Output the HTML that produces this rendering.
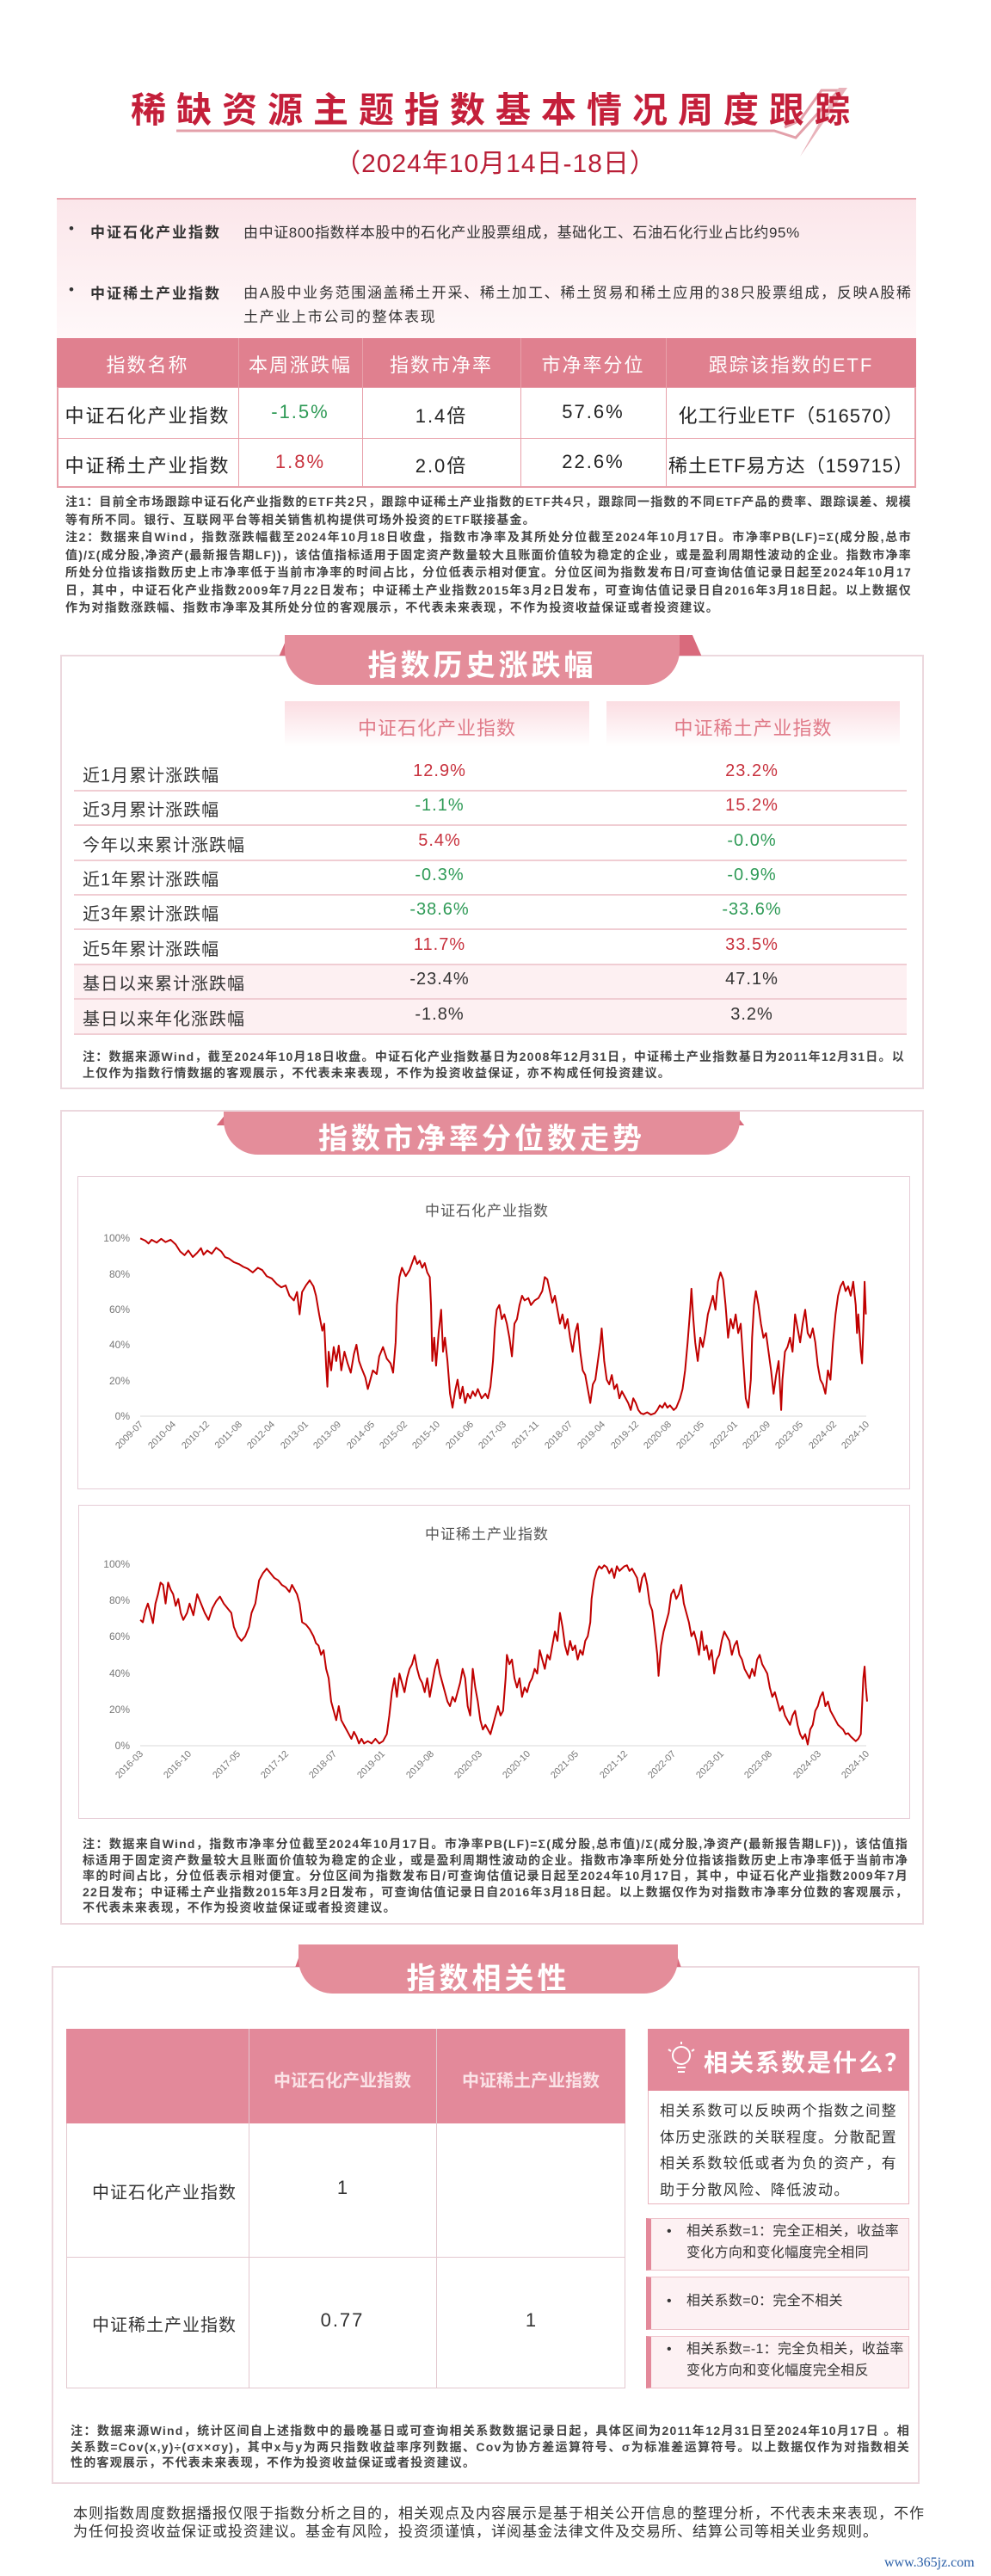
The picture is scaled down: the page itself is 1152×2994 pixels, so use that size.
<!DOCTYPE html>
<html><head><meta charset="utf-8">
<style>
*{margin:0;padding:0;box-sizing:border-box}
body{width:1152px;height:2994px;position:relative;background:#fff;font-family:"Liberation Sans","Noto Sans CJK SC",sans-serif;color:#333;overflow:hidden}
.a{position:absolute}
.c{text-align:center}
.note{font-size:14px;line-height:18.5px;letter-spacing:1.2px;font-weight:bold;color:#444;text-align:justify}
.sec{border:2px solid #ecd8de;background:#fff}
.rib{background:#e48d9a;color:#fff;font-weight:bold;font-size:34px;letter-spacing:4px;text-align:center;border-radius:0 0 40px 40px}
.red{color:#c8323e}.grn{color:#2e9a56}
</style></head><body>

<svg class="a" style="left:0;top:0" width="1152" height="240">
<polyline points="205,152 900,152 925,160 975,105 955,105 930,140 912,148" fill="none" stroke="#e3a0aa" stroke-width="3"/>
<polygon points="930,182 975,102 985,102" fill="#e9b3bb"/>
</svg>
<div class="a c" style="left:0;width:1152px;top:94px;font-size:41px;font-weight:bold;color:#c41f3a;letter-spacing:12px">稀缺资源主题指数基本情况周度跟踪</div>
<div class="a c" style="left:0;width:1152px;top:165px;font-size:30px;color:#b81d35;letter-spacing:1px">（2024年10月14日-18日）</div>

<div class="a" style="left:66px;top:230px;width:999px;height:163px;background:linear-gradient(#fbe6ea,#fff8f9)"></div>
<div class="a" style="left:66px;top:230px;width:999px;height:2px;background:#e9a4ae"></div>

<div class="a" style="left:80px;top:256px;font-size:17px">•</div>
<div class="a" style="left:105px;top:256px;font-size:17px;font-weight:bold;letter-spacing:2px">中证石化产业指数</div>
<div class="a" style="left:283px;top:256px;font-size:17px;letter-spacing:0.6px">由中证800指数样本股中的石化产业股票组成，基础化工、石油石化行业占比约95%</div>
<div class="a" style="left:80px;top:327px;font-size:17px">•</div>
<div class="a" style="left:105px;top:327px;font-size:17px;font-weight:bold;letter-spacing:2px">中证稀土产业指数</div>
<div class="a" style="left:283px;top:327px;width:785px;font-size:17px;letter-spacing:1.7px;line-height:28px">由A股中业务范围涵盖稀土开采、稀土加工、稀土贸易和稀土应用的38只股票组成，反映A股稀土产业上市公司的整体表现</div>

<div class="a" style="left:66px;top:393px;width:999px;height:174px;border:2px solid #e8a0aa"></div>
<div class="a" style="left:66px;top:393px;width:999px;height:57px;background:#e0808f"></div>
<div class="a" style="left:66px;top:509px;width:999px;height:1px;background:#e8a0aa"></div>
<div class="a" style="left:66px;top:450px;width:999px;height:1px;background:#e8a0aa"></div>
<div class="a" style="left:277px;top:393px;width:1px;height:174px;background:#e8a0aa"></div>
<div class="a" style="left:421px;top:393px;width:1px;height:174px;background:#e8a0aa"></div>
<div class="a" style="left:605px;top:393px;width:1px;height:174px;background:#e8a0aa"></div>
<div class="a" style="left:774px;top:393px;width:1px;height:174px;background:#e8a0aa"></div>
<div style="color:#fff;font-size:22px;letter-spacing:2px">
<div class="a c" style="left:66px;width:211px;top:407px">指数名称</div>
<div class="a c" style="left:277px;width:144px;top:407px">本周涨跌幅</div>
<div class="a c" style="left:421px;width:184px;top:407px">指数市净率</div>
<div class="a c" style="left:605px;width:169px;top:407px">市净率分位</div>
<div class="a c" style="left:774px;width:291px;top:407px">跟踪该指数的ETF</div>
</div>
<div style="font-size:22px;letter-spacing:2px;color:#222">
<div class="a c" style="left:66px;width:211px;top:466px">中证石化产业指数</div>
<div class="a c grn" style="left:277px;width:144px;top:466px">-1.5%</div>
<div class="a c" style="left:421px;width:184px;top:466px">1.4倍</div>
<div class="a c" style="left:605px;width:169px;top:466px">57.6%</div>
<div class="a c" style="left:774px;width:291px;top:466px;letter-spacing:1px">化工行业ETF（516570）</div>
<div class="a c" style="left:66px;width:211px;top:524px">中证稀土产业指数</div>
<div class="a c red" style="left:277px;width:144px;top:524px">1.8%</div>
<div class="a c" style="left:421px;width:184px;top:524px">2.0倍</div>
<div class="a c" style="left:605px;width:169px;top:524px">22.6%</div>
<div class="a c" style="left:774px;width:291px;top:524px;letter-spacing:1px">稀土ETF易方达（159715）</div>
</div>
<div class="a note" style="left:76px;top:573px;width:984px;line-height:20.5px">注1：目前全市场跟踪中证石化产业指数的ETF共2只，跟踪中证稀土产业指数的ETF共4只，跟踪同一指数的不同ETF产品的费率、跟踪误差、规模等有所不同。银行、互联网平台等相关销售机构提供可场外投资的ETF联接基金。<br>注2：数据来自Wind，指数涨跌幅截至2024年10月18日收盘，指数市净率及其所处分位截至2024年10月17日。市净率PB(LF)=Σ(成分股,总市值)/Σ(成分股,净资产(最新报告期LF))，该估值指标适用于固定资产数量较大且账面价值较为稳定的企业，或是盈利周期性波动的企业。指数市净率所处分位指该指数历史上市净率低于当前市净率的时间占比，分位低表示相对便宜。分位区间为指数发布日/可查询估值记录日起至2024年10月17日，其中，中证石化产业指数2009年7月22日发布；中证稀土产业指数2015年3月2日发布，可查询估值记录日自2016年3月18日起。以上数据仅作为对指数涨跌幅、指数市净率及其所处分位的客观展示，不代表未来表现，不作为投资收益保证或者投资建议。</div>

<div class="a sec" style="left:70px;top:761px;width:1004px;height:505px"></div>
<div class="a" style="left:309px;top:738px;width:522px;height:24px;background:#d96a7c;clip-path:polygon(3% 100%,5% 0,95% 0,97% 100%)"></div>
<div class="a rib" style="left:331px;top:738px;width:459px;height:58px;padding-top:8px">指数历史涨跌幅</div>
<div class="a c" style="left:331px;top:815px;width:354px;height:53px;background:linear-gradient(#fbdde2,#fff);color:#e07a88;font-size:22px;padding-top:14px;letter-spacing:1px">中证石化产业指数</div>
<div class="a c" style="left:705px;top:815px;width:341px;height:53px;background:linear-gradient(#fbdde2,#fff);color:#e07a88;font-size:22px;padding-top:14px;letter-spacing:1px">中证稀土产业指数</div>
<div class="a" style="left:86px;top:1120px;width:968px;height:81px;background:#fdf0f2"></div>
<div class="a" style="left:86px;top:918px;width:968px;height:2px;background:#f0cdd3"></div>
<div class="a" style="left:86px;top:958px;width:968px;height:2px;background:#f0cdd3"></div>
<div class="a" style="left:86px;top:999px;width:968px;height:2px;background:#f0cdd3"></div>
<div class="a" style="left:86px;top:1039px;width:968px;height:2px;background:#f0cdd3"></div>
<div class="a" style="left:86px;top:1079px;width:968px;height:2px;background:#f0cdd3"></div>
<div class="a" style="left:86px;top:1120px;width:968px;height:2px;background:#f0cdd3"></div>
<div class="a" style="left:86px;top:1160px;width:968px;height:2px;background:#f0cdd3"></div>
<div class="a" style="left:86px;top:1201px;width:968px;height:2px;background:#f0cdd3"></div>
<div style="font-size:20px;letter-spacing:1px">
<div class="a" style="left:96px;top:885px">近1月累计涨跌幅</div><div class="a c red" style="left:431px;width:160px;top:885px">12.9%</div><div class="a c red" style="left:794px;width:160px;top:885px">23.2%</div>
<div class="a" style="left:96px;top:925px">近3月累计涨跌幅</div><div class="a c grn" style="left:431px;width:160px;top:925px">-1.1%</div><div class="a c red" style="left:794px;width:160px;top:925px">15.2%</div>
<div class="a" style="left:96px;top:966px">今年以来累计涨跌幅</div><div class="a c red" style="left:431px;width:160px;top:966px">5.4%</div><div class="a c grn" style="left:794px;width:160px;top:966px">-0.0%</div>
<div class="a" style="left:96px;top:1006px">近1年累计涨跌幅</div><div class="a c grn" style="left:431px;width:160px;top:1006px">-0.3%</div><div class="a c grn" style="left:794px;width:160px;top:1006px">-0.9%</div>
<div class="a" style="left:96px;top:1046px">近3年累计涨跌幅</div><div class="a c grn" style="left:431px;width:160px;top:1046px">-38.6%</div><div class="a c grn" style="left:794px;width:160px;top:1046px">-33.6%</div>
<div class="a" style="left:96px;top:1087px">近5年累计涨跌幅</div><div class="a c red" style="left:431px;width:160px;top:1087px">11.7%</div><div class="a c red" style="left:794px;width:160px;top:1087px">33.5%</div>
<div class="a" style="left:96px;top:1127px">基日以来累计涨跌幅</div><div class="a c" style="left:431px;width:160px;top:1127px">-23.4%</div><div class="a c" style="left:794px;width:160px;top:1127px">47.1%</div>
<div class="a" style="left:96px;top:1168px">基日以来年化涨跌幅</div><div class="a c" style="left:431px;width:160px;top:1168px">-1.8%</div><div class="a c" style="left:794px;width:160px;top:1168px">3.2%</div>
</div>
<div class="a note" style="left:96px;top:1219px;width:956px">注：数据来源Wind，截至2024年10月18日收盘。中证石化产业指数基日为2008年12月31日，中证稀土产业指数基日为2011年12月31日。以上仅作为指数行情数据的客观展示，不代表未来表现，不作为投资收益保证，亦不构成任何投资建议。</div>

<div class="a sec" style="left:70px;top:1290px;width:1004px;height:947px"></div>
<div class="a" style="left:239px;top:1292px;width:639px;height:16px;background:#d96a7c;clip-path:polygon(2% 100%,4% 0,96% 0,98% 100%)"></div>
<div class="a rib" style="left:260px;top:1292px;width:600px;height:50px;padding-top:4px">指数市净率分位数走势</div>
<div class="a" style="left:90px;top:1367px;width:968px;height:364px;border:1px solid #e6ccd6"></div>
<div class="a" style="left:91px;top:1749px;width:967px;height:365px;border:1px solid #e6ccd6"></div>

<svg class="a" style="left:0;top:1300px" width="1152" height="850" viewBox="0 0 1568 1568" preserveAspectRatio="none">
<polyline vector-effect="non-scaling-stroke" fill="none" stroke="#c00000" stroke-width="2" stroke-linejoin="round" points="222,257 230,262 235,268 240,260 248,266 255,258 262,265 270,260 278,270 285,285 292,293 298,283 305,297 312,288 318,278 322,292 328,283 335,290 342,277 350,285 356,297 362,300 370,308 378,312 385,318 392,322 400,330 408,320 415,325 422,338 430,343 438,355 445,362 452,358 458,380 465,390 470,372 474,420 478,372 484,358 490,347 496,360 500,380 505,420 510,455 513,440 516,530 518,575 520,500 524,540 528,490 532,520 536,487 540,540 545,500 550,525 555,545 560,505 564,485 568,520 572,535 578,555 582,580 586,560 590,540 596,548 600,510 606,490 612,515 618,525 622,545 626,480 628,400 632,340 636,320 642,338 648,325 652,310 656,295 660,312 664,305 668,320 672,310 676,330 680,340 682,400 684,520 687,470 690,530 694,460 698,410 701,500 704,470 708,520 712,590 716,620 720,585 724,560 728,600 732,575 736,610 740,590 744,600 748,585 752,595 756,580 762,600 768,590 772,600 776,575 780,520 783,450 786,410 790,400 794,430 798,420 802,440 806,470 810,510 814,440 818,430 822,400 826,380 830,390 836,385 840,400 846,390 852,385 858,370 862,340 866,345 870,370 874,395 878,380 882,410 886,440 890,420 894,450 898,430 902,470 906,500 910,460 914,440 918,500 922,540 926,550 930,580 934,610 938,570 942,560 946,520 950,480 952,450 956,520 960,560 964,570 968,550 972,580 976,570 980,600 984,585 990,600 994,610 998,625 1002,600 1006,610 1010,625 1014,632 1018,634 1024,630 1030,635 1036,632 1040,625 1044,615 1048,620 1052,610 1056,620 1060,615 1066,625 1070,620 1076,600 1080,580 1084,540 1088,480 1092,410 1094,365 1097,430 1100,480 1104,520 1108,470 1112,490 1116,460 1120,420 1124,400 1128,380 1132,410 1136,350 1140,330 1144,345 1148,400 1152,470 1156,430 1160,450 1164,420 1168,460 1172,440 1176,520 1180,600 1184,620 1188,560 1190,470 1193,400 1196,370 1200,400 1204,440 1208,470 1212,460 1216,500 1220,540 1224,590 1228,550 1232,520 1236,625 1238,560 1242,500 1246,490 1250,470 1254,500 1258,420 1262,450 1266,480 1270,440 1274,410 1278,460 1282,470 1286,450 1290,480 1294,530 1298,560 1302,570 1306,590 1310,540 1314,560 1318,480 1322,420 1326,380 1330,360 1334,350 1338,370 1342,360 1346,380 1350,350 1354,400 1356,460 1358,420 1362,500 1364,525 1366,450 1368,350 1370,420"/>
<polyline vector-effect="non-scaling-stroke" fill="none" stroke="#c00000" stroke-width="2" stroke-linejoin="round" points="222,1075 226,1080 230,1055 234,1040 238,1060 242,1082 246,1040 250,1020 254,995 258,1000 262,1040 266,995 270,1010 274,1020 278,1045 282,1030 286,1060 290,1075 296,1060 300,1040 306,1065 312,1020 318,1040 324,1060 330,1075 336,1050 342,1035 348,1025 354,1040 360,1050 366,1060 370,1090 376,1110 382,1120 388,1110 394,1090 398,1060 404,1040 410,990 416,975 422,965 428,975 434,985 440,990 446,1000 452,1005 458,1015 462,1000 466,1010 470,1020 474,1040 478,1080 484,1085 490,1095 496,1110 500,1125 504,1130 508,1150 512,1140 516,1180 520,1200 524,1250 528,1270 532,1290 536,1260 540,1290 544,1300 548,1310 552,1320 556,1330 560,1315 564,1325 568,1340 572,1330 576,1340 582,1335 588,1340 594,1330 600,1340 606,1335 612,1320 616,1280 620,1230 624,1200 628,1240 632,1190 636,1210 640,1230 644,1200 648,1180 652,1170 656,1150 660,1180 664,1200 668,1210 672,1230 676,1200 680,1240 684,1210 688,1180 692,1160 696,1190 700,1210 704,1230 708,1250 712,1260 716,1240 720,1250 724,1230 728,1210 732,1180 736,1200 740,1260 744,1280 748,1180 752,1220 756,1250 760,1290 764,1310 768,1300 772,1310 776,1320 780,1300 784,1280 788,1260 792,1280 796,1270 800,1200 802,1150 806,1170 810,1160 814,1200 818,1220 822,1200 826,1240 830,1220 834,1230 838,1210 842,1200 846,1180 850,1190 854,1140 858,1160 862,1180 866,1150 870,1160 874,1130 878,1100 882,1120 886,1060 890,1090 894,1130 898,1150 902,1120 906,1140 910,1130 914,1160 918,1140 922,1150 926,1120 930,1110 934,1080 936,1030 940,990 944,970 948,960 952,965 956,958 960,962 964,975 968,965 972,985 976,960 980,970 984,965 988,960 992,958 996,970 1000,965 1004,975 1008,985 1012,1015 1016,985 1020,975 1024,1000 1028,1040 1032,1055 1036,1100 1040,1150 1042,1195 1046,1130 1050,1100 1054,1080 1058,1060 1062,1020 1066,1010 1070,1030 1074,1020 1078,1000 1082,1040 1086,1060 1090,1080 1094,1110 1098,1100 1102,1120 1106,1150 1110,1100 1114,1140 1118,1130 1122,1160 1126,1140 1130,1190 1134,1160 1138,1150 1142,1120 1146,1100 1150,1110 1154,1120 1158,1150 1162,1130 1166,1120 1170,1150 1174,1160 1178,1180 1182,1190 1186,1200 1190,1180 1194,1195 1198,1160 1202,1150 1206,1170 1210,1180 1214,1190 1218,1220 1222,1240 1226,1230 1230,1250 1234,1270 1238,1260 1242,1280 1246,1290 1250,1300 1254,1280 1258,1270 1262,1300 1266,1320 1270,1330 1274,1320 1278,1342 1282,1310 1286,1300 1290,1270 1294,1260 1298,1240 1302,1230 1306,1260 1310,1250 1314,1270 1318,1280 1322,1290 1326,1300 1330,1305 1334,1310 1338,1320 1342,1318 1346,1325 1350,1330 1354,1335 1358,1330 1362,1320 1364,1260 1366,1200 1368,1175 1370,1220 1372,1250"/>
</svg>

<svg class="a" style="left:0;top:0" width="1152" height="2994" font-family="Liberation Sans, Noto Sans CJK SC, sans-serif">
<text x="566" y="1413" text-anchor="middle" font-size="17" fill="#555" letter-spacing="1">中证石化产业指数</text>
<line x1="163" y1="1646" x2="1007" y2="1646" stroke="#d9d9d9"/>
<g font-size="12" fill="#777" text-anchor="end">
<text x="151" y="1443">100%</text><text x="151" y="1485">80%</text><text x="151" y="1526">60%</text><text x="151" y="1567">40%</text><text x="151" y="1609">20%</text><text x="151" y="1650">0%</text>
</g>
<g font-size="11" fill="#777" text-anchor="end">
<text transform="translate(167,1656) rotate(-45)">2009-07</text>
<text transform="translate(205,1656) rotate(-45)">2010-04</text>
<text transform="translate(244,1656) rotate(-45)">2010-12</text>
<text transform="translate(282,1656) rotate(-45)">2011-08</text>
<text transform="translate(320,1656) rotate(-45)">2012-04</text>
<text transform="translate(359,1656) rotate(-45)">2013-01</text>
<text transform="translate(397,1656) rotate(-45)">2013-09</text>
<text transform="translate(436,1656) rotate(-45)">2014-05</text>
<text transform="translate(474,1656) rotate(-45)">2015-02</text>
<text transform="translate(512,1656) rotate(-45)">2015-10</text>
<text transform="translate(551,1656) rotate(-45)">2016-06</text>
<text transform="translate(589,1656) rotate(-45)">2017-03</text>
<text transform="translate(627,1656) rotate(-45)">2017-11</text>
<text transform="translate(666,1656) rotate(-45)">2018-07</text>
<text transform="translate(704,1656) rotate(-45)">2019-04</text>
<text transform="translate(743,1656) rotate(-45)">2019-12</text>
<text transform="translate(781,1656) rotate(-45)">2020-08</text>
<text transform="translate(819,1656) rotate(-45)">2021-05</text>
<text transform="translate(858,1656) rotate(-45)">2022-01</text>
<text transform="translate(896,1656) rotate(-45)">2022-09</text>
<text transform="translate(934,1656) rotate(-45)">2023-05</text>
<text transform="translate(973,1656) rotate(-45)">2024-02</text>
<text transform="translate(1011,1656) rotate(-45)">2024-10</text>
</g>
<text x="566" y="1789" text-anchor="middle" font-size="17" fill="#555" letter-spacing="1">中证稀土产业指数</text>
<line x1="163" y1="2029" x2="1007" y2="2029" stroke="#d9d9d9"/>
<g font-size="12" fill="#777" text-anchor="end">
<text x="151" y="1822">100%</text><text x="151" y="1864">80%</text><text x="151" y="1906">60%</text><text x="151" y="1949">40%</text><text x="151" y="1991">20%</text><text x="151" y="2033">0%</text>
</g>
<g font-size="11" fill="#777" text-anchor="end">
<text transform="translate(167,2039) rotate(-45)">2016-03</text>
<text transform="translate(223,2039) rotate(-45)">2016-10</text>
<text transform="translate(280,2039) rotate(-45)">2017-05</text>
<text transform="translate(336,2039) rotate(-45)">2017-12</text>
<text transform="translate(392,2039) rotate(-45)">2018-07</text>
<text transform="translate(448,2039) rotate(-45)">2019-01</text>
<text transform="translate(505,2039) rotate(-45)">2019-08</text>
<text transform="translate(561,2039) rotate(-45)">2020-03</text>
<text transform="translate(617,2039) rotate(-45)">2020-10</text>
<text transform="translate(673,2039) rotate(-45)">2021-05</text>
<text transform="translate(730,2039) rotate(-45)">2021-12</text>
<text transform="translate(786,2039) rotate(-45)">2022-07</text>
<text transform="translate(842,2039) rotate(-45)">2023-01</text>
<text transform="translate(898,2039) rotate(-45)">2023-08</text>
<text transform="translate(955,2039) rotate(-45)">2024-03</text>
<text transform="translate(1011,2039) rotate(-45)">2024-10</text>
</g>
</svg>
<div class="a note" style="left:96px;top:2134px;width:960px">注：数据来自Wind，指数市净率分位截至2024年10月17日。市净率PB(LF)=Σ(成分股,总市值)/Σ(成分股,净资产(最新报告期LF))，该估值指标适用于固定资产数量较大且账面价值较为稳定的企业，或是盈利周期性波动的企业。指数市净率所处分位指该指数历史上市净率低于当前市净率的时间占比，分位低表示相对便宜。分位区间为指数发布日/可查询估值记录日起至2024年10月17日，其中，中证石化产业指数2009年7月22日发布；中证稀土产业指数2015年3月2日发布，可查询估值记录日自2016年3月18日起。以上数据仅作为对指数市净率分位数的客观展示，不代表未来表现，不作为投资收益保证或者投资建议。</div>

<div class="a sec" style="left:60px;top:2285px;width:1009px;height:602px"></div>
<div class="a" style="left:334px;top:2260px;width:467px;height:26px;background:#d96a7c;clip-path:polygon(2% 100%,4% 0,96% 0,98% 100%)"></div>
<div class="a rib" style="left:347px;top:2260px;width:441px;height:57px;padding-top:12px">指数相关性</div>

<div class="a" style="left:77px;top:2358px;width:650px;height:418px;border:1px solid #e3c8cf"></div>
<div class="a" style="left:77px;top:2358px;width:650px;height:110px;background:#e3899a"></div>
<div class="a" style="left:289px;top:2358px;width:1px;height:418px;background:#e3c8cf"></div>
<div class="a" style="left:507px;top:2358px;width:1px;height:418px;background:#e3c8cf"></div>
<div class="a" style="left:77px;top:2623px;width:650px;height:1px;background:#e3c8cf"></div>
<div class="a c" style="left:289px;width:218px;top:2402px;font-size:20px;font-weight:bold;color:#fbe3e7">中证石化产业指数</div>
<div class="a c" style="left:507px;width:220px;top:2402px;font-size:20px;font-weight:bold;color:#fbe3e7">中证稀土产业指数</div>
<div class="a" style="left:107px;top:2532px;font-size:20px;letter-spacing:1px">中证石化产业指数</div>
<div class="a c" style="left:289px;width:218px;top:2530px;font-size:22px">1</div>
<div class="a" style="left:107px;top:2686px;font-size:20px;letter-spacing:1px">中证稀土产业指数</div>
<div class="a c" style="left:289px;width:218px;top:2684px;font-size:22px;letter-spacing:2px">0.77</div>
<div class="a c" style="left:507px;width:220px;top:2684px;font-size:22px">1</div>

<div class="a" style="left:753px;top:2358px;width:304px;height:204px;border:1px solid #e9b5bf;background:#fff"></div>
<div class="a" style="left:753px;top:2358px;width:304px;height:72px;background:#e3899a"></div>
<svg class="a" style="left:775px;top:2372px" width="34" height="46"><circle cx="17" cy="17" r="10" fill="none" stroke="#fff" stroke-width="2"/><line x1="12" y1="31" x2="22" y2="31" stroke="#fff" stroke-width="2"/><line x1="13" y1="36" x2="21" y2="36" stroke="#fff" stroke-width="2"/><line x1="17" y1="1" x2="17" y2="4" stroke="#fff" stroke-width="2"/><line x1="2" y1="10" x2="5" y2="12" stroke="#fff" stroke-width="2"/><line x1="32" y1="10" x2="29" y2="12" stroke="#fff" stroke-width="2"/></svg>
<div class="a" style="left:818px;top:2376px;font-size:28px;font-weight:bold;color:#fff;letter-spacing:2px">相关系数是什么？</div>
<div class="a" style="left:767px;top:2439px;width:286px;font-size:17px;line-height:30.5px;letter-spacing:1.4px">相关系数可以反映两个指数之间整体历史涨跌的关联程度。分散配置相关系数较低或者为负的资产，有助于分散风险、降低波动。</div>

<div class="a" style="left:751px;top:2578px;width:306px;height:61px;border:1px solid #eec3ca;border-left:6px solid #e3899a;background:#fdf1f3"></div>
<div class="a" style="left:751px;top:2646px;width:306px;height:62px;border:1px solid #eec3ca;border-left:6px solid #e3899a;background:#fdf1f3"></div>
<div class="a" style="left:751px;top:2715px;width:306px;height:61px;border:1px solid #eec3ca;border-left:6px solid #e3899a;background:#fdf1f3"></div>
<div style="font-size:16px;letter-spacing:0.3px;line-height:25px">
<div class="a" style="left:775px;top:2581px">•</div><div class="a" style="left:798px;top:2581px;width:258px">相关系数=1：完全正相关，收益率变化方向和变化幅度完全相同</div>
<div class="a" style="left:775px;top:2662px">•</div><div class="a" style="left:798px;top:2662px">相关系数=0：完全不相关</div>
<div class="a" style="left:775px;top:2718px">•</div><div class="a" style="left:798px;top:2718px;width:258px">相关系数=-1：完全负相关，收益率变化方向和变化幅度完全相反</div>
</div>
<div class="a note" style="left:82px;top:2816px;width:976px">注：数据来源Wind，统计区间自上述指数中的最晚基日或可查询相关系数数据记录日起，具体区间为2011年12月31日至2024年10月17日 。相关系数=Cov(x,y)÷(σx×σy)，其中x与y为两只指数收益率序列数据、Cov为协方差运算符号、σ为标准差运算符号。以上数据仅作为对指数相关性的客观展示，不代表未来表现，不作为投资收益保证或者投资建议。</div>

<div class="a" style="left:85px;top:2911px;width:990px;font-size:17px;line-height:21px;letter-spacing:1px;color:#333">本则指数周度数据播报仅限于指数分析之目的，相关观点及内容展示是基于相关公开信息的整理分析，不代表未来表现，不作为任何投资收益保证或投资建议。基金有风险，投资须谨慎，详阅基金法律文件及交易所、结算公司等相关业务规则。</div>
<div class="a" style="left:1028px;top:2970px;font-size:16px;color:#2a5fa8;font-family:'Liberation Serif',serif">www.365jz.com</div>
</body></html>
